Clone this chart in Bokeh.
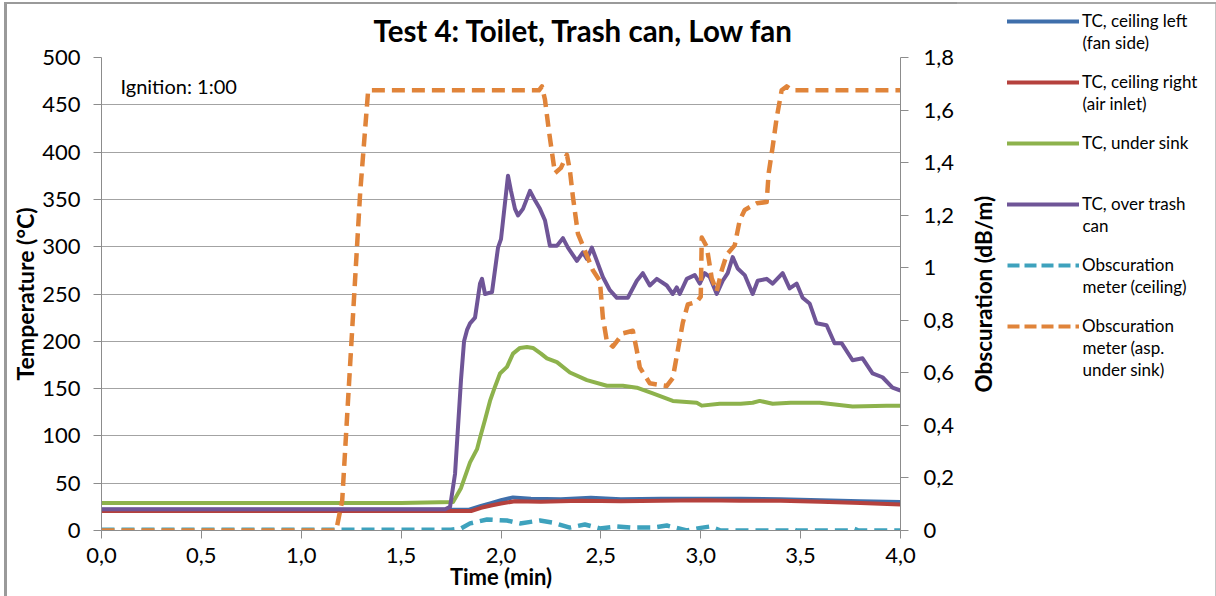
import math
from bokeh.plotting import figure
from bokeh.layouts import row
from bokeh.models import (Range1d, LinearAxis, FixedTicker, CustomJSTickFormatter,
                          Legend, LegendItem, Label, Title)
from bokeh.embed import file_html
from bokeh.resources import INLINE

FONT = "Lato"

# ---------------- data ----------------
t_ceil_left = [0, 1.84, 1.90, 1.95, 2.00, 2.06, 2.15, 2.30, 2.45, 2.60, 2.80, 3.00, 3.20, 3.40, 3.60, 3.80, 4.00]
T_ceil_left = [22, 22, 26, 29, 32, 35, 33.5, 33, 34.5, 33, 33.5, 33.5, 33.5, 33, 32, 31, 30]

t_ceil_right = [0, 1.85, 1.90, 1.95, 2.00, 2.07, 2.20, 2.40, 2.60, 2.80, 3.00, 3.20, 3.40, 3.60, 3.80, 4.00]
T_ceil_right = [20.5, 20.5, 24, 26.5, 28.5, 31, 30.5, 31.5, 31, 31.5, 32, 31.5, 31.5, 30.5, 29, 27.5]

t_sink = [0, 1.50, 1.76, 1.80, 1.845, 1.88, 1.895, 1.92, 1.945, 1.97, 1.995, 2.03, 2.06, 2.095, 2.13,
          2.16, 2.20, 2.23, 2.28, 2.345, 2.43, 2.53, 2.61, 2.68, 2.76, 2.86, 2.98, 3.005, 3.095, 3.20,
          3.26, 3.295, 3.36, 3.45, 3.595, 3.76, 3.93, 4.00]
T_sink = [29, 29, 30, 45, 72, 86, 98, 117, 137, 152, 166, 173, 187, 193, 194,
          193, 187, 182, 178, 167, 159, 153, 153, 151, 145, 137, 135, 132, 134, 134,
          135, 137, 134, 135, 135, 131, 132, 132]

t_trash = [0, 1.72, 1.745, 1.77, 1.785, 1.80, 1.815, 1.83, 1.845, 1.87, 1.895, 1.905, 1.92, 1.955,
           1.985, 2.00, 2.035, 2.05, 2.07, 2.085, 2.11, 2.145, 2.17, 2.195, 2.22, 2.245, 2.28, 2.31,
           2.335, 2.38, 2.41, 2.43, 2.455, 2.48, 2.51, 2.545, 2.58, 2.635, 2.68, 2.71, 2.745, 2.78,
           2.83, 2.86, 2.88, 2.895, 2.93, 2.97, 2.995, 3.02, 3.045, 3.08, 3.11, 3.135, 3.16, 3.185,
           3.22, 3.26, 3.285, 3.33, 3.36, 3.41, 3.445, 3.48, 3.51, 3.545, 3.58, 3.63, 3.67, 3.705,
           3.76, 3.81, 3.86, 3.91, 3.96, 4.00]
T_trash = [22.5, 22.5, 25, 60, 110, 160, 200, 212, 219, 225, 261, 266, 250, 252,
           299, 308, 375, 359, 340, 333, 340, 359, 349, 340, 328, 301, 301, 309,
           299, 285, 294, 287, 299, 285, 268, 254, 246, 246, 264, 272, 259, 266,
           259, 250, 257, 250, 266, 270, 261, 272, 268, 250, 264, 272, 289, 277,
           270, 250, 264, 266, 261, 272, 256, 261, 246, 240, 219, 217, 198, 198,
           180, 182, 166, 162, 151, 148]

t_obs_ceil = [0, 1.75, 1.80, 1.845, 1.93, 2.03, 2.095, 2.195, 2.26, 2.345, 2.42, 2.495, 2.58, 2.66,
              2.76, 2.83, 2.93, 3.00, 3.045, 3.10, 3.44, 3.46, 3.48, 3.75, 3.77, 3.79, 4.00]
O_obs_ceil = [0.003, 0.003, 0.008, 0.027, 0.042, 0.038, 0.027, 0.038, 0.030, 0.011, 0.023, 0.008,
              0.015, 0.011, 0.011, 0.019, 0.0, 0.010, 0.015, 0.0, 0.0, 0.006, 0.0, 0.0, 0.006, 0.0, 0.0]

t_obs_sink = [0, 1.175, 1.205, 1.295, 1.335, 2.19, 2.205, 2.22, 2.24, 2.27, 2.30, 2.33, 2.345,
              2.36, 2.385, 2.42, 2.46, 2.495, 2.51, 2.53, 2.56, 2.61, 2.66, 2.68, 2.695, 2.745,
              2.83, 2.86, 2.885, 2.91, 2.935, 2.98, 3.00, 3.005, 3.03, 3.055, 3.08, 3.105, 3.13,
              3.17, 3.195, 3.22, 3.28, 3.33, 3.34, 3.36, 3.38, 3.405, 3.43, 3.46, 4.00]
O_obs_sink = [0, 0, 0.114, 1.286, 1.675, 1.675, 1.69, 1.64, 1.52, 1.36, 1.38, 1.43, 1.37,
              1.27, 1.13, 1.065, 0.99, 0.95, 0.81, 0.72, 0.70, 0.75, 0.76, 0.685, 0.62, 0.56,
              0.55, 0.58, 0.685, 0.79, 0.86, 0.87, 0.89, 1.115, 1.08, 0.96, 0.91, 0.99, 1.05,
              1.085, 1.18, 1.22, 1.245, 1.25, 1.36, 1.46, 1.57, 1.675, 1.69, 1.675, 1.675]

x_ticks = [0, 0.5, 1.0, 1.5, 2.0, 2.5, 3.0, 3.5, 4.0]
temp_ticks = [0, 50, 100, 150, 200, 250, 300, 350, 400, 450, 500]
obs_ticks = [0, 0.2, 0.4, 0.6, 0.8, 1.0, 1.2, 1.4, 1.6, 1.8]

# legend labels: first line goes in the legend entry, following lines are shown below it
label_lines = [["TC, ceiling left", "(fan side)"],
               ["TC, ceiling right", "(air inlet)"],
               ["TC, under sink"],
               ["TC, over trash", "can"],
               ["Obscuration", "meter (ceiling)"],
               ["Obscuration", "meter (asp.", "under sink)"]]
colors = ["#3f6fab", "#b5413d", "#8db24c", "#6f5597", "#3ea2bd", "#e0843a"]
series = [(t_ceil_left, T_ceil_left, None), (t_ceil_right, T_ceil_right, None),
          (t_sink, T_sink, None), (t_trash, T_trash, None),
          (t_obs_ceil, O_obs_ceil, "obs"), (t_obs_sink, O_obs_sink, "obs")]

GRID = "#a3a3a3"
AXIS = "#8c8c8c"
W = 4
DASH = "13 7"

MAIN_W = 957
p = figure(width=MAIN_W, height=596, output_backend="svg", toolbar_location=None,
           x_range=Range1d(0, 4), y_range=Range1d(0, 500),
           min_border_left=101, min_border_right=MAIN_W - 901, min_border_top=57, min_border_bottom=66,
           x_axis_label="Time (min)", y_axis_label="Temperature (°C)")
p.frame_align = False
p.extra_y_ranges = {"obs": Range1d(0, 1.8)}
p.outline_line_color = None
p.border_fill_alpha = 0
p.background_fill_color = "white"
p.styles = {"background-color": "white",
            "box-shadow": "inset 4px 2px 0 0 white, inset 7px 4px 0 0 #9a9a9a"}

p.title.text = "Test 4: Toilet, Trash can, Low fan"
p.title.text_font = FONT
p.title.text_font_size = "29.5px"
p.title.text_font_style = "bold"
p.title.text_color = "black"
p.title.align = "left"
p.title.offset = 272
p.title.standoff = 20

p.xgrid.visible = False
p.ygrid.grid_line_color = GRID
p.ygrid.grid_line_width = 1
p.ygrid.ticker = FixedTicker(ticks=temp_ticks)

xax = p.xaxis[0]
xax.ticker = FixedTicker(ticks=x_ticks)
xax.formatter = CustomJSTickFormatter(code="return tick.toFixed(1).replace('.', ',');")
yax = p.yaxis[0]
yax.ticker = FixedTicker(ticks=temp_ticks)

rax = LinearAxis(y_range_name="obs")
rax.ticker = FixedTicker(ticks=obs_ticks)
rax.formatter = CustomJSTickFormatter(
    code="if (Math.abs(tick - Math.round(tick)) < 1e-9) { return Math.round(tick).toString(); }"
         " return tick.toFixed(1).replace('.', ',');")
p.add_layout(rax, "right")

for ax in (xax, yax, rax):
    ax.axis_line_color = AXIS
    ax.major_tick_line_color = AXIS
    ax.major_tick_out = 8
    ax.major_tick_in = 0
    ax.minor_tick_line_color = None
    ax.major_label_text_font = FONT
    ax.major_label_text_font_size = "22px"
    ax.major_label_text_color = "black"
    ax.axis_label_text_font = FONT
    ax.axis_label_text_font_size = "22px"
    ax.axis_label_text_font_style = "bold"
    ax.axis_label_text_color = "black"
yax.axis_label_text_font_size = "23px"
xax.major_label_standoff = 9
xax.axis_label_standoff = -3
yax.major_label_standoff = 13
yax.axis_label_standoff = 0
rax.major_label_standoff = 15

for i, (tx, vy, rng) in enumerate(series):
    kw = dict(line_color=colors[i], line_width=W, line_join="round")
    if rng:
        kw.update(line_dash=DASH, y_range_name=rng, line_width=4.5)
    p.line(tx, vy, **kw)

p.add_layout(Label(x=0.095, y=470, text="Ignition: 1:00", text_font=FONT, text_font_size="20px",
                   text_baseline="alphabetic", text_color="black"))

# ---------------- right-hand panel: secondary axis title + legend ----------------
LEG_W = 1216 - MAIN_W
FRAME_LEFT = 1005 - MAIN_W
FRAME_TOP = 10
lf = figure(width=LEG_W, height=596, output_backend="svg", toolbar_location=None,
            x_range=Range1d(10, 11), y_range=Range1d(10, 11),
            x_axis_type=None, y_axis_type=None, title=None,
            min_border_left=FRAME_LEFT, min_border_top=FRAME_TOP, min_border_right=0, min_border_bottom=0)
lf.frame_align = False
lf.grid.visible = False
lf.outline_line_color = None
lf.border_fill_alpha = 0
lf.background_fill_alpha = 0
lf.styles = {"background-color": "white",
             "box-shadow": "inset 0 2px 0 0 white, inset 0 4px 0 0 #a6a6a6, inset -1px 0 0 0 #c4c4c4"}

lf.add_layout(Title(text="Obscuration (dB/m)", align="left", text_font=FONT,
                    text_font_size="22.5px", text_font_style="bold", text_color="black",
                    standoff=21, offset=204), "left")

GLYPH_W = 72
STANDOFF = 3
ROW_H = 21
PITCH = 61
LINE_H = 22
items = []
for i, (tx, vy, rng) in enumerate(series):
    kw = dict(line_color=colors[i], line_width=W, line_cap="round")
    if rng:
        kw.update(line_dash="12 5", line_cap="butt")
    r = lf.line(tx, vy, **kw)
    items.append(LegendItem(label=label_lines[i][0], renderers=[r]))
    for k, extra in enumerate(label_lines[i][1:], start=1):
        y_top = FRAME_TOP + 10 + PITCH * i + LINE_H * k
        lf.add_layout(Label(x=GLYPH_W + STANDOFF, y=596 - y_top, x_units="screen", y_units="screen",
                            text=extra, text_font=FONT, text_font_size="17px",
                            text_baseline="middle", text_color="black"))
legend = Legend(items=items, location="top_left")
legend.border_line_color = None
legend.background_fill_alpha = 0
legend.padding = 0
legend.margin = 0
legend.spacing = PITCH - ROW_H
legend.glyph_width = GLYPH_W
legend.glyph_height = 20
legend.label_height = 20
legend.label_standoff = STANDOFF
legend.label_text_font = FONT
legend.label_text_font_size = "17px"
legend.label_text_color = "black"
lf.add_layout(legend, "center")

layout = row(p, lf)
open("out.html", "w").write(file_html(layout, INLINE))
